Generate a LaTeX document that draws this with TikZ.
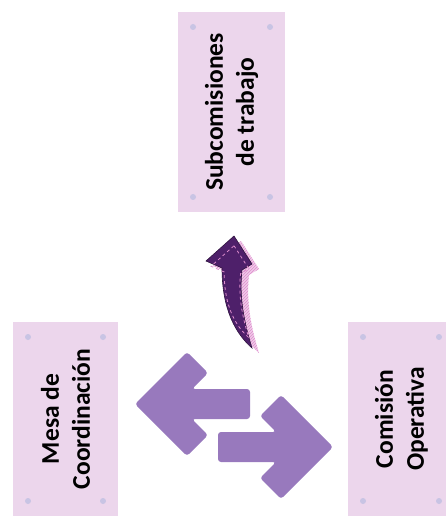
\documentclass[tikz,border=0pt]{standalone}
\usepackage{fontspec}
\setmainfont{Carlito}
\usetikzlibrary{patterns}

\definecolor{boxpink}{RGB}{236,214,236}
\definecolor{dotblue}{RGB}{200,196,228}
\definecolor{swapviolet}{RGB}{152,121,189}
\definecolor{darkplum}{RGB}{78,32,106}
\definecolor{rosy}{RGB}{222,140,205}

\newcommand{\upcurve}{(234,236) -- (252,264) -- (242,270)
  .. controls (239,297) and (244,322) .. (252,348)
  .. controls (236,334) and (222,310) .. (222,268)
  -- (206,261) -- cycle}

\begin{document}
\begin{tikzpicture}[x=1pt,y=-1pt]

	\tikzset{
		group/.style={
				rectangle, fill=boxpink, draw=none, rotate=90, align=center,
				font=\fontsize{25.5}{31}\selectfont\bfseries, inner sep=0pt
			},
		corner/.style={
				circle, fill=dotblue, inner sep=0pt, minimum size=6pt
			},
		swap/.style={
				fill=swapviolet, rounded corners=3pt
			},
	}

	\useasboundingbox (0,0) rectangle (445,518);

	\node[group, minimum width=200pt, minimum height=107pt] (sub) at (231.5,112) {Subcomisiones\\de trabajo};
	\node[group, minimum width=194pt, minimum height=105pt] (mesa) at (65.5,419) {Mesa de\\Coordinación};
	\node[group, minimum width=194pt, minimum height=107pt] (com) at (401.5,419) {Comisión\\Operativa};

	% corner dots of the boxes
	\foreach \px/\py in {193/27, 270/27, 193/197, 270/197,
			28/337, 103/337, 28/501, 103/501,
			363/337, 439/337, 363/501, 439/501}
		\node[corner] at (\px,\py) {};

	% two way exchange
	\fill[swap, shift={(135,404)}] (0,0) -- (52,-52) -- (73,-31) -- (57,-15) -- (115,-15)
		-- (115,15) -- (57,15) -- (73,31) -- (52,52) -- cycle;
	\fill[swap, shift={(333,447)}, xscale=-1] (0,0) -- (52,-52) -- (73,-31) -- (57,-15) -- (115,-15)
		-- (115,15) -- (57,15) -- (73,31) -- (52,52) -- cycle;

	% curved arrow upwards
	\fill[rosy!45, shift={(7,5)}] \upcurve;
	\fill[pattern=north east lines, pattern color=rosy, shift={(7,5)}] \upcurve;
	\fill[darkplum] \upcurve;
	\draw[darkplum!60!black, line width=0.6pt] \upcurve;
	\draw[rosy, dashed, line width=0.8pt, shift={(234,290)}, scale=0.82, shift={(-234,-290)}] \upcurve;
\end{tikzpicture}
\end{document}
